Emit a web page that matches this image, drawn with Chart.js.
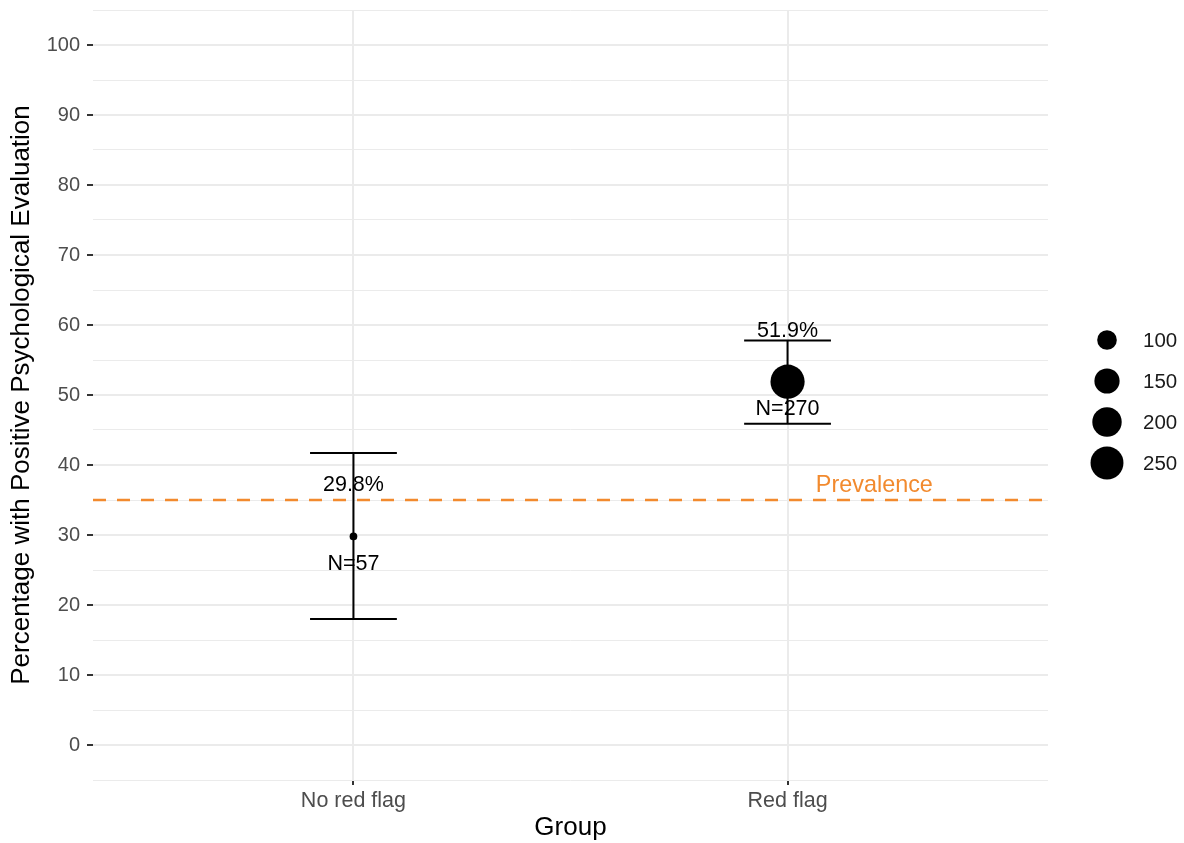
<!DOCTYPE html>
<html>
<head>
<meta charset="utf-8">
<script src="https://cdn.jsdelivr.net/npm/chart.js@4/dist/chart.umd.min.js"></script>
<style>
  html, body { margin: 0; padding: 0; background: #fff; }
  #wrap { width: 1184px; height: 843px; }
</style>
</head>
<body>
<div id="wrap"><canvas id="chart" width="1184" height="843"></canvas></div>
<script>
// data
const groups = ['No red flag', 'Red flag'];
const pct = [29.8, 51.9];
const lower = [18.0, 45.9];
const upper = [41.7, 57.8];
const nObs = [57, 270];
const prevalence = 35;
const sizeBreaks = [100, 150, 200, 250];

const FONT = "'Liberation Sans', Arial, sans-serif";
const ORANGE = '#F28A2E';

// ggplot-like area scale: size 1..6 over the N range
function radiusFor(n) {
    const lo = Math.min(...nObs), hi = Math.max(...nObs);
    const t = Math.max(0, Math.min(1, (n - lo) / (hi - lo)));
    const size = 1 + 5 * Math.sqrt(t);
    return 1.2 + 2.65 * size;
}

const overlays = {
    id: 'overlays',
    beforeDatasetsDraw(chart) {
        const { ctx, chartArea: a, scales: { x, y } } = chart;
        ctx.save();
        // prevalence line
        ctx.strokeStyle = ORANGE;
        ctx.lineWidth = 2.6;
        ctx.setLineDash([13, 11]);
        const py = y.getPixelForValue(prevalence);
        ctx.beginPath();
        ctx.moveTo(a.left, py);
        ctx.lineTo(a.right, py);
        ctx.stroke();
        ctx.setLineDash([]);
        // error bars
        ctx.strokeStyle = '#000';
        ctx.lineWidth = 2;
        groups.forEach((g, i) => {
            const cx = x.getPixelForValue(i + 1);
            const l = x.getPixelForValue(i + 1 - 0.1);
            const r = x.getPixelForValue(i + 1 + 0.1);
            const yl = y.getPixelForValue(lower[i]);
            const yu = y.getPixelForValue(upper[i]);
            ctx.beginPath();
            ctx.moveTo(cx, yl); ctx.lineTo(cx, yu);
            ctx.moveTo(l, yl); ctx.lineTo(r, yl);
            ctx.moveTo(l, yu); ctx.lineTo(r, yu);
            ctx.stroke();
        });
        ctx.restore();
    },
    afterDatasetsDraw(chart) {
        const { ctx, scales: { x, y } } = chart;
        ctx.save();
        ctx.textAlign = 'center';
        ctx.textBaseline = 'middle';
        ctx.fillStyle = '#000';
        ctx.font = '21.5px ' + FONT;
        groups.forEach((g, i) => {
            const cx = x.getPixelForValue(i + 1);
            ctx.fillText(pct[i].toFixed(1) + '%', cx, y.getPixelForValue(pct[i] + 7.3));
            ctx.fillText('N=' + nObs[i], cx, y.getPixelForValue(pct[i] - 3.9));
        });
        ctx.fillStyle = ORANGE;
        ctx.font = '23.4px ' + FONT;
        ctx.fillText('Prevalence', x.getPixelForValue(2.2), y.getPixelForValue(prevalence + 2.0));

        // size legend
        ctx.textAlign = 'left';
        ctx.font = '20.5px ' + FONT;
        sizeBreaks.forEach((b, i) => {
            const ly = 340 + i * 41;
            ctx.fillStyle = '#000';
            ctx.beginPath();
            ctx.arc(1107, ly, radiusFor(b), 0, Math.PI * 2);
            ctx.fill();
            ctx.fillStyle = '#1A1A1A';
            ctx.fillText(String(b), 1143, ly + 1);
        });
        ctx.restore();
    }
};

new Chart(document.getElementById('chart'), {
    type: 'bubble',
    data: {
        datasets: [{
            data: groups.map((g, i) => ({ x: i + 1, y: pct[i], r: radiusFor(nObs[i]) })),
            backgroundColor: '#000',
            borderColor: '#000',
            borderWidth: 0,
            hoverRadius: 0
        }]
    },
    options: {
        responsive: false,
        animation: false,
        layout: { autoPadding: false, padding: { top: 10, right: 136, bottom: 0, left: 0 } },
        plugins: { legend: { display: false }, tooltip: { enabled: false } },
        scales: {
            x: {
                type: 'linear',
                min: 0.4,
                max: 2.6,
                afterBuildTicks: s => { s.ticks = groups.map((g, i) => ({ value: i + 1 })); },
                afterFit: s => { s.height = 63; s.paddingLeft = 0; s.paddingRight = 0; },
                border: { display: false },
                grid: { color: '#EBEBEB', lineWidth: 2, tickColor: '#333', tickLength: 5 },
                ticks: {
                    padding: 3,
                    color: '#4D4D4D',
                    font: { family: FONT, size: 21.5 },
                    callback: v => groups[v - 1] || ''
                },
                title: {
                    display: true, text: 'Group', color: '#000',
                    font: { family: FONT, size: 26 },
                    padding: { top: 0, bottom: 0 }
                }
            },
            y: {
                min: -5,
                max: 105,
                afterBuildTicks: s => {
                    const t = [];
                    for (let v = -5; v <= 105; v += 5) t.push({ value: v });
                    s.ticks = t;
                },
                afterFit: s => { s.width = 93; s.paddingTop = 0; s.paddingBottom = 0; },
                border: { display: false },
                grid: {
                    color: '#EBEBEB',
                    lineWidth: c => (c.tick && c.tick.value % 10 === 0) ? 2 : 1,
                    tickColor: c => (c.tick && c.tick.value % 10 === 0) ? '#333' : 'rgba(0,0,0,0)',
                    tickLength: 6
                },
                ticks: {
                    padding: 7,
                    color: '#4D4D4D',
                    font: { family: FONT, size: 20 },
                    callback: v => (v % 10 === 0 && v >= 0 && v <= 100) ? String(v) : ''
                },
                title: {
                    display: true, text: 'Percentage with Positive Psychological Evaluation', color: '#000',
                    font: { family: FONT, size: 26 },
                    padding: { top: 6, bottom: 0 }
                }
            }
        }
    },
    plugins: [overlays]
});
</script>
</body>
</html>
